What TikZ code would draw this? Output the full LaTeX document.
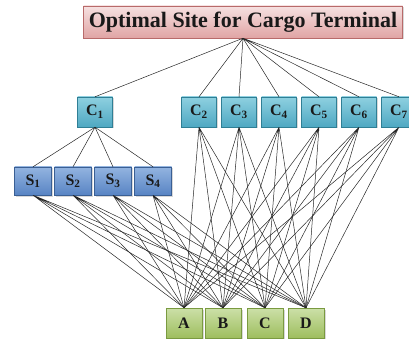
\documentclass[tikz,border=0pt]{standalone}
\usepackage{fontspec}
\setmainfont{Liberation Serif}
\usetikzlibrary{shadows}

\definecolor{goaltop}{HTML}{F6E1E1}
\definecolor{goalbot}{HTML}{E0A4A4}
\definecolor{goalline}{HTML}{B86A6A}
\definecolor{crittop}{HTML}{8ED0E0}
\definecolor{critbot}{HTML}{4FA8C2}
\definecolor{critline}{HTML}{2F7F95}
\definecolor{subtop}{HTML}{93B4E0}
\definecolor{subbot}{HTML}{5884C4}
\definecolor{subline}{HTML}{3A5F94}
\definecolor{alttop}{HTML}{CCE0A8}
\definecolor{altbot}{HTML}{9EBE5E}
\definecolor{altline}{HTML}{7A9A40}

\tikzset{
  box/.style={draw, rectangle, inner sep=0pt, minimum width=35pt, minimum height=30pt,
    font=\bfseries\fontsize{16}{18}\selectfont, text=black!90,
    drop shadow={shadow xshift=1.5pt, shadow yshift=-1.5pt, fill=black!30}},
  goalbox/.style={box, minimum width=319pt, minimum height=32pt, font=\bfseries\fontsize{22}{24}\selectfont,
    top color=goaltop, bottom color=goalbot, draw=goalline},
  critbox/.style={box, top color=crittop, bottom color=critbot, draw=critline},
  subbox/.style={box, minimum width=37pt, minimum height=28pt, top color=subtop, bottom color=subbot, draw=subline},
  altbox/.style={box, minimum width=36pt, top color=alttop, bottom color=altbot, draw=altline},
  link/.style={draw=black!85, line width=0.5pt}
}

\begin{document}
\begin{tikzpicture}[x=1pt,y=-1pt]
\useasboundingbox (0,0) rectangle (409,339);

\path (243,22) node[goalbox](goal){Optimal Site for Cargo Terminal}
  (95,112) node[critbox](C1){C\textsubscript{1}}
  (199,112) node[critbox](C2){C\textsubscript{2}}
  (239,112) node[critbox](C3){C\textsubscript{3}}
  (279,112) node[critbox](C4){C\textsubscript{4}}
  (319,112) node[critbox](C5){C\textsubscript{5}}
  (359,112) node[critbox](C6){C\textsubscript{6}}
  (399,112) node[critbox](C7){C\textsubscript{7}};

\path (33,181) node[subbox](S1){S\textsubscript{1}}
  (73,181) node[subbox](S2){S\textsubscript{2}}
  (113,181) node[subbox](S3){S\textsubscript{3}}
  (153,181) node[subbox](S4){S\textsubscript{4}};

\path (184,323) node[altbox](A){A}
  (223,323) node[altbox](B){B}
  (265,323) node[altbox](C){C}
  (306,323) node[altbox](D){D};

% goal to criteria
\draw[link] (goal.south) -- (C1.north) (goal.south) -- (C2.north) (goal.south) -- (C3.north)
  (goal.south) -- (C4.north) (goal.south) -- (C5.north) (goal.south) -- (C6.north) (goal.south) -- (C7.north);

% C1 to sub-criteria
\draw[link] (C1.south) -- (S1.north) (C1.south) -- (S2.north) (C1.south) -- (S3.north) (C1.south) -- (S4.north);

% sub-criteria to sites
\draw[link] (S1.south) -- (A.north) (S1.south) -- (B.north) (S1.south) -- (C.north) (S1.south) -- (D.north);
\draw[link] (S2.south) -- (A.north) (S2.south) -- (B.north) (S2.south) -- (C.north) (S2.south) -- (D.north);
\draw[link] (S3.south) -- (A.north) (S3.south) -- (B.north) (S3.south) -- (C.north) (S3.south) -- (D.north);
\draw[link] (S4.south) -- (A.north) (S4.south) -- (B.north) (S4.south) -- (C.north) (S4.south) -- (D.north);

% criteria to sites
\draw[link] (C2.south) -- (A.north) (C2.south) -- (B.north) (C2.south) -- (C.north) (C2.south) -- (D.north);
\draw[link] (C3.south) -- (A.north) (C3.south) -- (B.north) (C3.south) -- (C.north) (C3.south) -- (D.north);
\draw[link] (C4.south) -- (A.north) (C4.south) -- (B.north) (C4.south) -- (C.north) (C4.south) -- (D.north);
\draw[link] (C5.south) -- (A.north) (C5.south) -- (B.north) (C5.south) -- (C.north) (C5.south) -- (D.north);
\draw[link] (C6.south) -- (A.north) (C6.south) -- (B.north) (C6.south) -- (C.north) (C6.south) -- (D.north);
\draw[link] (C7.south) -- (A.north) (C7.south) -- (B.north) (C7.south) -- (C.north) (C7.south) -- (D.north);
\end{tikzpicture}
\end{document}
